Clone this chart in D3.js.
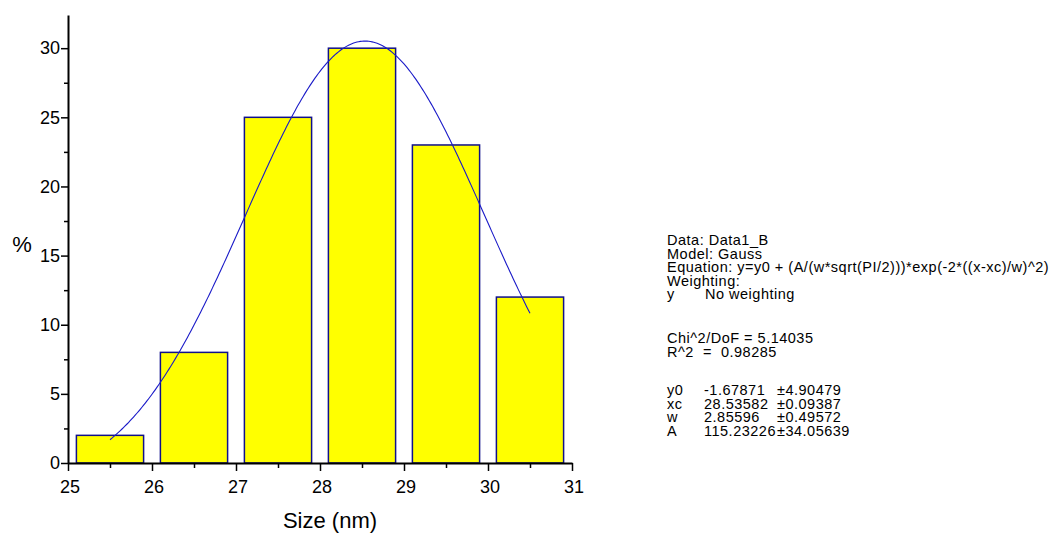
<!DOCTYPE html>
<html>
<head>
<meta charset="utf-8">
<script src="https://cdn.jsdelivr.net/npm/d3@7"></script>
<style>
  html, body { margin: 0; padding: 0; background: #fff; }
  svg { display: block; font-family: "Liberation Sans", Arial, Helvetica, sans-serif; }
  .axis text { font-family: "Liberation Sans", Arial, sans-serif; }
</style>
</head>
<body>
<svg id="chart" width="1058" height="534"></svg>
<script>
// Size distribution histogram (bin centres, nm) and percentage per bin
const binCenters = [25.5, 26.5, 27.5, 28.5, 29.5, 30.5];
const percents = [2, 8, 25, 30, 23, 12];
const binWidth = 0.8;

// Axis ticks
const xMajorTicks = [25, 26, 27, 28, 29, 30, 31];
const xMinorTicks = [25.5, 26.5, 27.5, 28.5, 29.5, 30.5];
const yMajorTicks = [0, 5, 10, 15, 20, 25, 30];
const yMinorTicks = [2.5, 7.5, 12.5, 17.5, 22.5, 27.5];

// Gauss fit results
const fitNames = ["y0", "xc", "w", "A"];
const fitValues = [-1.67871, 28.53582, 2.85596, 115.23226];
const fitErrors = [4.90479, 0.09387, 0.49572, 34.05639];
const fitRange = [25.5, 30.5];
const chiDof = 5.14035;
const rSquared = 0.98285;

const svg = d3.select("#chart");

const x = d3.scaleLinear().domain([25, 31]).range([68, 572]);
const y = d3.scaleLinear().domain([0, 32.4]).range([463, 15]);

// Bars
svg.append("g")
  .selectAll("rect")
  .data(binCenters)
  .join("rect")
  .attr("x", d => x(d - binWidth / 2))
  .attr("y", (d, i) => y(percents[i]))
  .attr("width", d => x(d + binWidth / 2) - x(d - binWidth / 2))
  .attr("height", (d, i) => y(0) - y(percents[i]))
  .attr("fill", "#ffff00")
  .attr("stroke", "#10108a")
  .attr("stroke-width", 1.5);

// Fitted Gauss curve from the printed parameters
const [y0, xc, w, A] = fitValues;
const gauss = t => y0 + (A / (w * Math.sqrt(Math.PI / 2))) * Math.exp(-2 * Math.pow((t - xc) / w, 2));
const curveX = d3.range(fitRange[0], fitRange[1] + 1e-9, 0.02);
svg.append("path")
  .datum(curveX)
  .attr("fill", "none")
  .attr("stroke", "#1a1ac8")
  .attr("stroke-width", 1.1)
  .attr("d", d3.line().x(d => x(d)).y(d => y(gauss(d))));

// Y axis
svg.append("g").attr("class", "axis").attr("transform", `translate(${x(25)},0)`)
  .call(d3.axisLeft(y).tickValues(yMajorTicks).tickSize(7).tickSizeOuter(0).tickPadding(1).tickFormat(d3.format("d")));
svg.append("g").attr("transform", `translate(${x(25)},0)`)
  .call(d3.axisLeft(y).tickValues(yMinorTicks).tickSize(4).tickSizeOuter(0).tickFormat(""))
  .call(g => g.select(".domain").remove());

// X axis
const xAxis = svg.append("g").attr("class", "axis").attr("transform", `translate(0,${y(0)})`)
  .call(d3.axisBottom(x).tickValues(xMajorTicks).tickSize(8).tickSizeOuter(0).tickPadding(9).tickFormat(d3.format("d")));
svg.append("g").attr("transform", `translate(0,${y(0)})`)
  .call(d3.axisBottom(x).tickValues(xMinorTicks).tickSize(5).tickSizeOuter(0).tickFormat(""))
  .call(g => g.select(".domain").remove());

svg.selectAll(".domain").attr("stroke", "#000").attr("stroke-width", 2);
svg.selectAll(".tick line").attr("stroke", "#000").attr("stroke-width", 1.5);
svg.selectAll(".axis text").attr("font-size", 18).attr("fill", "#000");
xAxis.selectAll("text").attr("dx", 1.5);

// Axis titles
svg.append("text")
  .attr("x", 330).attr("y", 528)
  .attr("text-anchor", "middle")
  .attr("font-size", 22)
  .text("Size (nm)");
svg.append("text")
  .attr("x", 22).attr("y", 252)
  .attr("text-anchor", "middle")
  .attr("font-size", 22)
  .text("%");

// Fit report
const report = svg.append("g").attr("font-size", 14.5).attr("letter-spacing", 0.5).attr("fill", "#000");
const left = 667;
const lines = [
  { t: "Data: Data1_B", y: 245 },
  { t: "Model: Gauss", y: 258.5 },
  { t: "Equation: y=y0 + (A/(w*sqrt(PI/2)))*exp(-2*((x-xc)/w)^2)", y: 272 },
  { t: "Weighting:", y: 285.5 },
  { t: "y", y: 299 },
  { t: `Chi^2/DoF = ${chiDof.toFixed(5)}`, y: 343 },
  { t: `R^2  =  ${rSquared.toFixed(5)}`, y: 356.5 }
];
lines.forEach(l => {
  report.append("text").attr("x", left).attr("y", l.y)
    .attr("xml:space", "preserve").style("white-space", "pre").text(l.t);
});
report.append("text").attr("x", 705).attr("y", 299).text("No weighting");

const rowY = [395, 408.5, 422, 435.5];
fitNames.forEach((n, i) => {
  const v = fitValues[i].toFixed(5);
  report.append("text").attr("x", left).attr("y", rowY[i]).text(n);
  const vt = report.append("text").attr("x", 704).attr("y", rowY[i]).text(v);
  const vw = vt.node().getComputedTextLength();
  const ex = Math.max(777, 704 + vw);
  report.append("text").attr("x", ex).attr("y", rowY[i]).text("\u00b1" + fitErrors[i].toFixed(5));
});
</script>
</body>
</html>
